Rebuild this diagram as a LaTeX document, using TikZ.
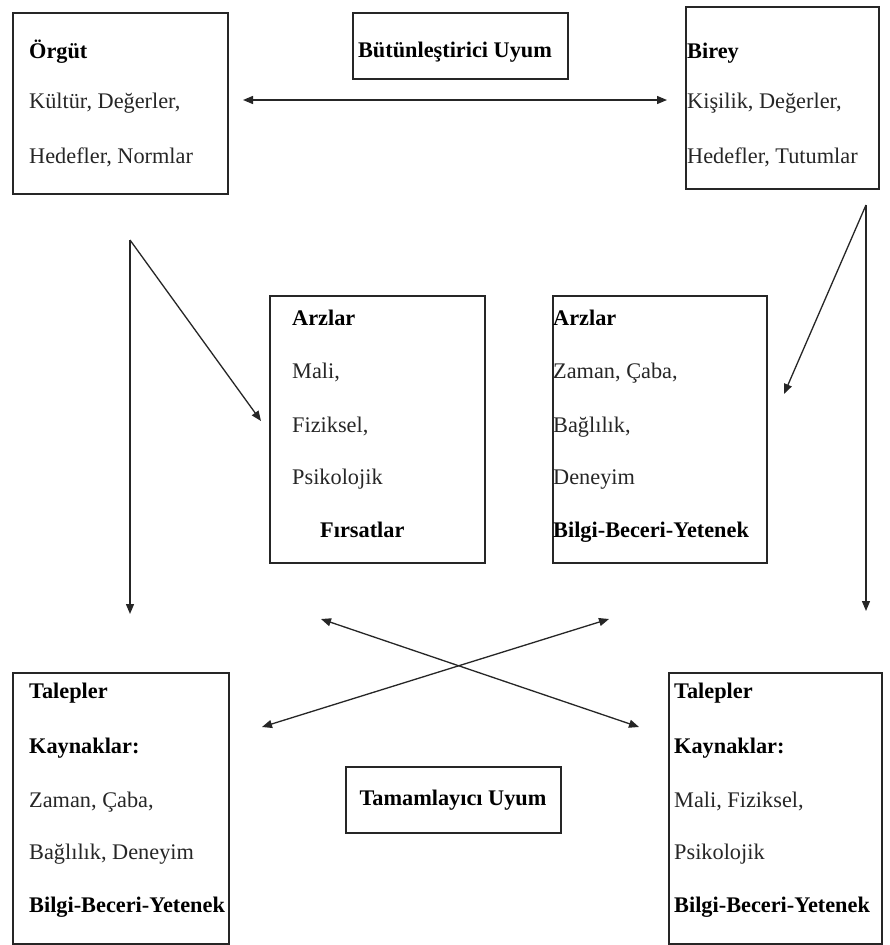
\documentclass[tikz,border=0pt]{standalone}
\usepackage{fontspec}
\setmainfont{Liberation Serif}
\usetikzlibrary{arrows.meta}
\begin{document}
\begin{tikzpicture}[x=1pt,y=-1pt,
  box/.style={draw=black!85, line width=1.6pt, inner sep=0pt, anchor=north west},
  txt/.style={anchor=base west, inner sep=0pt, font=\fontsize{22.3}{26}\selectfont, text=black!85},
  btxt/.style={txt, font=\fontsize{22.3}{26}\selectfont\bfseries, text=black},
  arr/.style={line width=1.3pt, draw=black!85, -{Triangle[length=10pt,width=8pt]}},
  darr/.style={line width=1.3pt, draw=black!85, {Triangle[length=10pt,width=8pt]}-{Triangle[length=10pt,width=8pt]}}
]
\useasboundingbox[fill=white] (0,0) rectangle (890,945);

% top boxes
\node[box, minimum width=215pt, minimum height=181pt] (orgut) at (12,12) {};
\node[btxt] (t1) at (29,58) {Örgüt};
\node[txt] (t2) at (29,108) {Kültür, Değerler,};
\node[txt] (t3) at (29,163) {Hedefler, Normlar};

\node[box, minimum width=215pt, minimum height=66pt] (butun) at (352,12) {};
\node[btxt, anchor=base] (butunt) at (455,57) {Bütünleştirici Uyum};

\node[box, minimum width=193pt, minimum height=182pt] (birey) at (685,6) {};
\node[btxt] (b1) at (687,58) {Birey};
\node[txt] (b2) at (687,108) {Kişilik, Değerler,};
\node[txt] (b3) at (687,163) {Hedefler, Tutumlar};

% middle boxes
\node[box, minimum width=215pt, minimum height=267pt] (arz1) at (269,295) {};
\node[btxt] (a1) at (292,325) {Arzlar};
\node[txt] (a2) at (292,378) {Mali,};
\node[txt] (a3) at (292,432) {Fiziksel,};
\node[txt] (a4) at (292,484) {Psikolojik};
\node[btxt] (a5) at (320,537) {Fırsatlar};

\node[box, minimum width=214pt, minimum height=267pt] (arz2) at (552,295) {};
\node[btxt] (c1) at (553,325) {Arzlar};
\node[txt] (c2) at (553,378) {Zaman, Çaba,};
\node[txt] (c3) at (553,432) {Bağlılık,};
\node[txt] (c4) at (553,484) {Deneyim};
\node[btxt] (c5) at (553,537) {Bilgi-Beceri-Yetenek};

% bottom boxes
\node[box, minimum width=216pt, minimum height=271pt] (tal1) at (12,672) {};
\node[btxt] (d1) at (29,698) {Talepler};
\node[btxt] (d2) at (29,753) {Kaynaklar:};
\node[txt] (d3) at (29,807) {Zaman, Çaba,};
\node[txt] (d4) at (29,859) {Bağlılık, Deneyim};
\node[btxt] (d5) at (29,912) {Bilgi-Beceri-Yetenek};

\node[box, minimum width=213pt, minimum height=271pt] (tal2) at (668,672) {};
\node[btxt] (e1) at (674,698) {Talepler};
\node[btxt] (e2) at (674,753) {Kaynaklar:};
\node[txt] (e3) at (674,807) {Mali, Fiziksel,};
\node[txt] (e4) at (674,859) {Psikolojik};
\node[btxt] (e5) at (674,912) {Bilgi-Beceri-Yetenek};

\node[box, minimum width=215pt, minimum height=66pt] (tamam) at (345,766) {};
\node[btxt, anchor=base] (tamamt) at (453,805) {Tamamlayıcı Uyum};

% connector coordinates
\coordinate (hL) at (243,100);
\coordinate (hR) at (667,100);
\coordinate (lS) at (130,240);
\coordinate (lD) at (261,421);
\coordinate (lV) at (130,614);
\coordinate (rS) at (866,205);
\coordinate (rD) at (784,394);
\coordinate (rV) at (866,611);
\coordinate (x1a) at (321,619);
\coordinate (x1b) at (639,727);
\coordinate (x2a) at (262,727);
\coordinate (x2b) at (609,619);

\draw[darr] (hL) -- (hR);
\draw[arr] (lS) -- (lD);
\draw[arr] (lS) -- (lV);
\draw[arr] (rS) -- (rD);
\draw[arr] (rS) -- (rV);
\draw[darr] (x1a) -- (x1b);
\draw[darr] (x2a) -- (x2b);
\end{tikzpicture}
\end{document}
